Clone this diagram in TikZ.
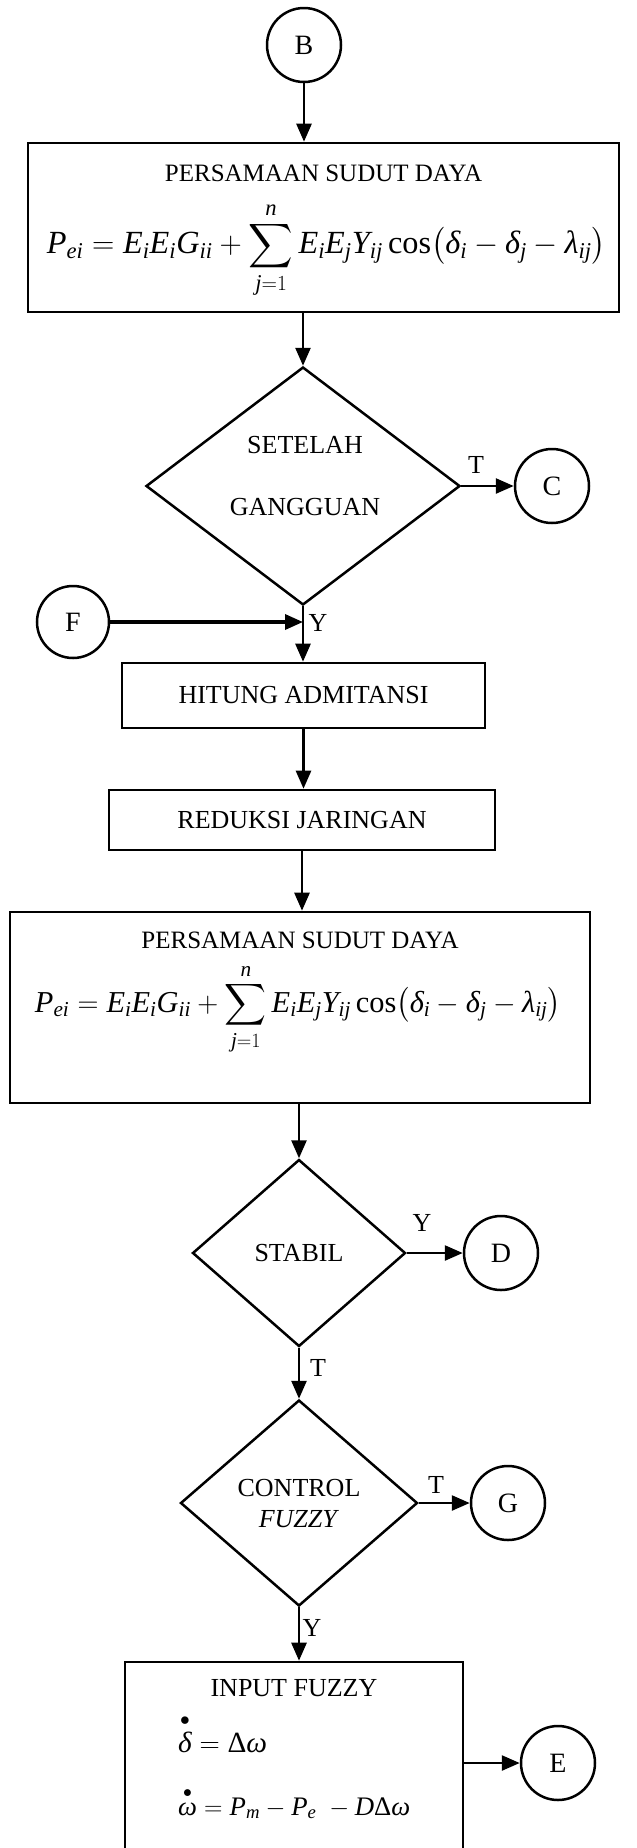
\documentclass[tikz,border=0pt]{standalone}
\usepackage{amsmath}
\usepackage{exscale}
\usepackage{fontspec}
\setmainfont{Liberation Serif}
\usetikzlibrary{shapes.geometric,arrows.meta}
\newcommand\gi[1]{\text{\itshape #1}}
\newcommand\peq{\displaystyle \mathit{P}_{\mathit{ei}}=\mathit{E}_{\mathit{i}}\mathit{E}_{\mathit{i}}\mathit{G}_{\mathit{ii}}+\sum_{\mathit{j}=1}^{\mathit{n}}\mathit{E}_{\mathit{i}}\mathit{E}_{\mathit{j}}\mathit{Y}_{\mathit{ij}}\,\mathrm{cos}\!\left(\gi{δ}_{\mathit{i}}-\gi{δ}_{\mathit{j}}-\gi{λ}_{\mathit{ij}}\right)}
\begin{document}
\begin{tikzpicture}[x=1pt,y=-1pt,
  every node/.style={font=\fontsize{26}{31}\selectfont},
  conn/.style={circle,draw,line width=2.5pt,minimum size=74pt,inner sep=0pt,font=\fontsize{28}{32}\selectfont},
  pbox/.style={rectangle,draw,line width=2.6pt,inner sep=0pt},
  dec/.style={diamond,draw,line width=2.5pt,inner sep=0pt},
  lbl/.style={inner sep=0pt},
  ttl/.style={inner sep=0pt,font=\fontsize{25}{30}\selectfont},
  arr/.style={line width=2.6pt,-{Triangle[length=18pt,width=15pt]}}]
\clip (0,0) rectangle (637,1848);
% top connector and first equation box
\node[conn] (B) at (304,45) {B};
\node[pbox,minimum width=591pt,minimum height=169pt] (box1) at (323.5,227.5) {};
\node[ttl] (t1) at (323.5,173) {PERSAMAAN SUDUT DAYA};
\node[lbl] (f1) at (326.5,250) {\resizebox{559pt}{!}{$\peq$}};
\draw[arr] (B) -- (B |- box1.north);
% first decision
\node[dec,minimum width=314pt,minimum height=238pt] (d1) at (303,486) {};
\node[lbl] (d1a) at (305,445) {SETELAH};
\node[lbl] (d1b) at (305,507) {GANGGUAN};
\draw[arr] (box1.south -| d1.north) -- (d1.north);
\node[lbl] (lT1) at (476,465) {T};
\node[conn] (C) at (552,486) {C};
\draw[arr] (d1.east) -- (C);
\node[conn,minimum size=72pt] (F) at (73,622) {F};
\draw[arr,line width=3.4pt] (F) -- (F -| d1.south);
\node[lbl] (lY1) at (318,623) {Y};
% process boxes
\node[pbox,minimum width=363pt,minimum height=65pt] (hit) at (303.5,695.5) {HITUNG ADMITANSI};
\draw[arr] (d1.south) -- (d1.south |- hit.north);
\node[pbox,minimum width=386pt,minimum height=60pt] (red) at (302,820) {REDUKSI JARINGAN};
\draw[arr] (hit.south) -- (hit.south |- red.north);
\node[pbox,minimum width=580pt,minimum height=191pt] (box3) at (300,1007.5) {};
\node[ttl] (t3) at (300,940) {PERSAMAAN SUDUT DAYA};
\node[lbl] (f3) at (298,1009) {\resizebox{526pt}{!}{$\peq$}};
\draw[arr] (red.south) -- (red.south |- box3.north);
% STABIL decision
\node[dec,minimum width=213pt,minimum height=187pt] (st) at (299,1253) {STABIL};
\draw[arr] (box3.south -| st.north) -- (st.north);
\node[lbl] (lY2) at (422,1223) {Y};
\node[conn] (D) at (501,1253) {D};
\draw[arr] (st.east) -- (D);
\node[lbl] (lT2) at (318,1368) {T};
% CONTROL FUZZY decision
\node[dec,minimum width=237pt,minimum height=206pt,align=center] (ctl) at (299,1503) {CONTROL\\\textit{FUZZY}};
\draw[arr] (st.south) -- (ctl.north);
\node[lbl] (lT3) at (436,1485) {T};
\node[conn] (G) at (508,1503) {G};
\draw[arr] (ctl.east) -- (G);
\node[lbl] (lY3) at (312,1628) {Y};
% input fuzzy box
\node[pbox,minimum width=338pt,minimum height=198pt] (inp) at (294,1761) {};
\draw[arr] (ctl.south) -- (ctl.south |- inp.north);
\node[lbl] (t5) at (294,1688) {INPUT FUZZY};
\node[lbl,anchor=base west] (e1) at (178,1752) {\resizebox{89pt}{!}{$\overset{\bullet}{\gi{δ}}=\text{Δ}\gi{ω}$}};
\node[lbl,anchor=base west] (e2) at (178,1815) {\resizebox{232pt}{!}{$\overset{\bullet}{\gi{ω}}=\mathit{P}_{\mathit{m}}-\mathit{P}_{\mathit{e}}\;-\mathit{D}\text{Δ}\gi{ω}$}};
\node[conn] (E) at (558,1763) {E};
\draw[arr] (inp.east |- E) -- (E);
\end{tikzpicture}
\end{document}
